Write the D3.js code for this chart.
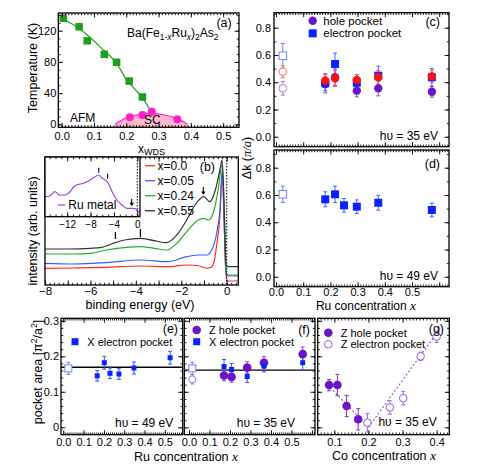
<!DOCTYPE html>
<html>
<head>
<meta charset="utf-8">
<script src="https://cdn.jsdelivr.net/npm/d3@7"></script>
<style>
body { margin: 0; background: #fff; }
text { font-family: "Liberation Sans", Arial, Helvetica, sans-serif; fill: #000; }
</style>
</head>
<body>
<script>
// ---------- data ----------
// (a) phase diagram
var afmX = [0.005, 0.054, 0.079, 0.132, 0.17, 0.209, 0.25];
var afmT = [136, 125, 107, 89.7, 79.5, 55.5, 35];
var afmFitX = [0, 0.05, 0.12, 0.17, 0.2, 0.25, 0.28];
var afmFitT = [136, 124, 99, 78, 58, 34, 15];
var scX = [0.211, 0.25, 0.279, 0.358];
var scT = [9, 11.9, 16.2, 6.4];
var domeX = [0.165, 0.2, 0.24, 0.28, 0.32, 0.36, 0.39];
var domeT = [0, 8.5, 12.5, 14, 12, 7, 0];

// (b) valence band spectra [binding energy, intensity]
var specLabels = ["x=0.0", "x=0.05", "x=0.24", "x=0.55"];
var specColors = ["#ff2a2a", "#3a5cff", "#22b022", "#333333"];
var spec00 = [[-8,16.7],[-6.75,17],[-5.3,17.7],[-3.8,19],[-2.6,18.3],[-1.76,20],[-1.3,19.5],[-0.9,17],[-0.7,17.5],[-0.55,24],[-0.44,40],[-0.3,68],[-0.19,112],[-0.1,52],[-0.03,10],[0.05,4],[0.51,4]];
var spec05 = [[-8,21.7],[-6.75,21],[-5.3,22.3],[-3.8,25],[-2.6,23.3],[-1.76,28.3],[-1.25,30],[-0.88,30],[-0.66,35],[-0.44,52],[-0.3,75],[-0.2,115],[-0.1,55],[-0.03,11.7],[0.05,9],[0.51,9]];
var spec24 = [[-8,31],[-6.75,31],[-6,31.7],[-5.3,35],[-4.5,37.3],[-3.8,38.3],[-3.2,36.7],[-2.64,35],[-2.2,41.7],[-1.76,53.3],[-1.25,65],[-1,66.7],[-0.8,65],[-0.6,71.7],[-0.4,91.7],[-0.2,120],[-0.1,68.3],[-0.03,15],[0.05,10],[0.51,10]];
var spec55 = [[-8,36],[-7,36],[-6,36.7],[-5.5,37.7],[-5,41.7],[-4.5,45],[-3.8,46.7],[-3.2,44.3],[-2.64,42.3],[-2.2,50],[-1.76,65],[-1.4,80],[-1,88.3],[-0.75,83.3],[-0.5,95],[-0.3,115],[-0.2,125],[-0.1,68.3],[-0.03,20],[0.05,18.3],[0.51,18.3]];
var ruMetal = [[-15.8,20],[-15,20.7],[-14.1,25],[-13.3,21.7],[-12.4,21.7],[-11.5,25],[-10.9,30],[-10,32.4],[-9.2,33.4],[-8.3,36],[-7.4,39.4],[-6.6,41.7],[-6,38.4],[-5.15,35],[-4.3,25],[-3.5,16.7],[-2.6,11.7],[-1.8,8.4],[-0.96,8.4],[-0.4,8],[0,6],[0.46,5]];
var specMarks = [[-4.9, 46, 53], [-3.8, 48, 56]];
var specArrow = [-1.03, 98, 90];
var ruMarks = [[-6.6, 44, 49], [-5.08, 38, 43]];
var ruArrow = [-0.96, 18, 10.5];

// (c) Δk at hν = 35 eV
var xC = [0.181, 0.217, 0.297, 0.376, 0.573];
var holeC = [0.387, 0.436, 0.338, 0.355, 0.33];
var holeCerr = [0.05, 0.06, 0.045, 0.055, 0.04];
var elecC = [0.392, 0.534, 0.396, 0.448, 0.436];
var elecCerr = [0.07, 0.08, 0.06, 0.07, 0.065];
var redC = [0.411, 0.428, 0.416, 0.436, 0.443];
var redCerr = [0.045, 0.06, 0.04, 0.05, 0.045];
var openXC = 0.025;
var openC = {elec: [0.594, 0.09], red: [0.477, 0.045], hole: [0.355, 0.05]};

// (d) Δk at hν = 49 eV
var xD = [0.181, 0.217, 0.25, 0.297, 0.376, 0.573];
var elecD = [0.568, 0.605, 0.524, 0.514, 0.543, 0.49];
var elecDerr = [0.055, 0.06, 0.05, 0.05, 0.055, 0.05];
var openD = [0.025, 0.605, 0.06];

// (e) X electron pocket area, 49 eV
var xE = [0.167, 0.202, 0.23, 0.274, 0.348, 0.526];
var areaE = [0.145, 0.182, 0.152, 0.150, 0.167, 0.196];
var areaEerr = [0.015, 0.018, 0.015, 0.015, 0.017, 0.018];
var openE = [0.025, 0.166, 0.017];
var lineE = 0.169;

// (f) Z hole and X electron pocket area, 35 eV
var xF = [0.171, 0.208, 0.284, 0.366, 0.555];
var holeF = [0.146, 0.142, 0.168, 0.182, 0.206];
var holeFerr = [0.015, 0.015, 0.017, 0.017, 0.02];
var elecF = [0.171, 0.163, 0.143, 0.173, 0.182];
var elecFerr = [0.02, 0.017, 0.017, 0.017, 0.02];
var openFelec = [0.016, 0.166, 0.017];
var openFhole = [0.016, 0.135, 0.013];
var lineF = 0.161;

// (g) Co doped, 35 eV
var xGhole = [0.0845, 0.109, 0.136, 0.170];
var holeG = [0.119, 0.119, 0.06, 0.0225];
var holeGerr = [0.016, 0.03, 0.03, 0.03];
var xGelec = [0.197, 0.263, 0.302, 0.353, 0.400];
var elecG = [0.013, 0.056, 0.082, 0.2, 0.255];
var elecGerr = [0.026, 0.019, 0.019, 0.012, 0.016];
var guideG1 = [[0.088, 0.112], [0.2, 0.0]];
var guideG2 = [[0.2, 0.0], [0.415, 0.285]];

// ---------- colours ----------
var green = "#1e9e1e", magenta = "#ff1ec8", pink = "#ffb8cc";
var purple = "#6a14c8", blue = "#0a22ff", red = "#ff1010";
var purpleLt = "#a07ae6", blueLt = "#6f82ff", redLt = "#ff7070";

var svg = d3.select("body").append("svg").attr("width", 498).attr("height", 473);

function panel(l, r, t, b, xd, yd) {
  return { l: l, r: r, t: t, b: b,
    x: d3.scaleLinear().domain(xd).range([l, r]),
    y: d3.scaleLinear().domain(yd).range([b, t]) };
}

function steps(lo, hi, st) {
  var out = [];
  for (var i = Math.ceil(lo / st - 1e-9); i <= Math.floor(hi / st + 1e-9); i++) out.push(+(i * st).toFixed(4));
  return out;
}

function axisSide(p, side, vals, len, fmt, pad, fs) {
  var horiz = side == "bottom" || side == "top";
  var sc = horiz ? p.x : p.y;
  var mk = { bottom: d3.axisBottom, top: d3.axisTop, left: d3.axisLeft, right: d3.axisRight }[side];
  var inside = vals.filter(function(v) {
    var q = sc(v);
    return horiz ? (q >= p.l - 0.5 && q <= p.r + 0.5) : (q >= p.t - 0.5 && q <= p.b + 0.5);
  });
  var ax = mk(sc).tickValues(inside).tickSizeInner(-len).tickSizeOuter(0)
    .tickPadding(pad || 3).tickFormat(fmt || function() { return ""; });
  var tr = { bottom: "translate(0," + p.b + ")", top: "translate(0," + p.t + ")",
             left: "translate(" + p.l + ",0)", right: "translate(" + p.r + ",0)" }[side];
  var g = svg.append("g").attr("transform", tr).call(ax);
  g.attr("font-family", null).attr("font-size", fs || 11);
  g.select(".domain").remove();
  g.selectAll(".tick line").attr("stroke", "#000").attr("stroke-width", 0.9);
  return g;
}

function frame(p, o) {
  if (o.xMin) { axisSide(p, "bottom", o.xMin, 2.2); axisSide(p, "top", o.xMin, 2.2); }
  if (o.xMaj) { axisSide(p, "bottom", o.xMaj, 4.5, o.xf, o.xpad, o.xfs); axisSide(p, "top", o.xMaj, 4.5); }
  if (o.yMin) { axisSide(p, "left", o.yMin, 2.2); axisSide(p, "right", o.yMin, 2.2); }
  if (o.yMaj) { axisSide(p, "left", o.yMaj, 4.5, o.yf, o.ypad); axisSide(p, "right", o.yMaj, 4.5); }
  svg.append("rect").attr("x", p.l).attr("y", p.t).attr("width", p.r - p.l).attr("height", p.b - p.t)
    .attr("fill", "none").attr("stroke", "#000").attr("stroke-width", 1.3);
}

function clipFor(p, id) {
  svg.append("clipPath").attr("id", id).append("rect")
    .attr("x", p.l).attr("y", p.t).attr("width", p.r - p.l).attr("height", p.b - p.t);
  return "url(#" + id + ")";
}

function errBars(p, xs, ys, es, color) {
  svg.append("g").selectAll("path").data(xs.map(function(x, i) { return [x, ys[i], es[i]]; })).join("path")
    .attr("d", function(d) {
      var X = p.x(d[0]), y1 = p.y(d[1] - d[2]), y2 = p.y(d[1] + d[2]);
      return "M" + X + "," + y1 + "V" + y2 + "M" + (X - 2) + "," + y1 + "h4M" + (X - 2) + "," + y2 + "h4";
    })
    .attr("stroke", color).attr("stroke-width", 1).attr("fill", "none");
}

function circles(p, xs, ys, r, fill, stroke) {
  svg.append("g").selectAll("circle").data(xs.map(function(x, i) { return [x, ys[i]]; })).join("circle")
    .attr("cx", function(d) { return p.x(d[0]); }).attr("cy", function(d) { return p.y(d[1]); })
    .attr("r", r).attr("fill", fill).attr("stroke", stroke || "none").attr("stroke-width", 1);
}

function squares(p, xs, ys, s, fill, stroke) {
  svg.append("g").selectAll("rect").data(xs.map(function(x, i) { return [x, ys[i]]; })).join("rect")
    .attr("x", function(d) { return p.x(d[0]) - s / 2; }).attr("y", function(d) { return p.y(d[1]) - s / 2; })
    .attr("width", s).attr("height", s).attr("fill", fill).attr("stroke", stroke || "none").attr("stroke-width", 1);
}

function label(x, y, str, o) {
  o = o || {};
  return svg.append("text").attr("x", x).attr("y", y).attr("dy", "0.35em")
    .attr("font-size", o.fs || 12).attr("text-anchor", o.anchor || "start").text(str);
}

function rotLabel(x, y, fs) {
  return svg.append("text").attr("transform", "translate(" + x + "," + y + ") rotate(-90)")
    .attr("text-anchor", "middle").attr("dy", "0.35em").attr("font-size", fs);
}

function italicX(t) {
  t.append("tspan").attr("font-family", "Liberation Serif, Times New Roman, serif")
    .attr("font-style", "italic").attr("font-size", 13.5).text(" x");
}

var f1 = d3.format(".1f");
var fd = d3.format("d");

// ================= (a) =================
var pa = panel(58.3, 239, 13, 127.3, [-0.0105, 0.549], [-3.8, 142.7]);
var clipA = clipFor(pa, "clipA");
svg.append("path").datum(domeX.map(function(x, i) { return [x, domeT[i]]; }))
  .attr("clip-path", clipA)
  .attr("d", d3.area().x(function(d) { return pa.x(d[0]); }).y0(pa.y(-3.8)).y1(function(d) { return pa.y(d[1]); }).curve(d3.curveMonotoneX))
  .attr("fill", pink);
svg.append("path").datum(domeX.map(function(x, i) { return [x, domeT[i]]; }))
  .attr("d", d3.line().x(function(d) { return pa.x(d[0]); }).y(function(d) { return pa.y(d[1]); }).curve(d3.curveMonotoneX))
  .attr("fill", "none").attr("stroke", magenta).attr("stroke-width", 1.2);
svg.append("path").datum(afmFitX.map(function(x, i) { return [x, afmFitT[i]]; }))
  .attr("d", d3.line().x(function(d) { return pa.x(d[0]); }).y(function(d) { return pa.y(d[1]); }).curve(d3.curveMonotoneX))
  .attr("fill", "none").attr("stroke", green).attr("stroke-width", 1.2);
squares(pa, afmX, afmT, 7.5, green);
circles(pa, scX, scT, 4, magenta);
frame(pa, { xMin: steps(0, 0.54, 0.01), xMaj: steps(0, 0.5, 0.1), xf: f1, xpad: 4.5,
            yMin: steps(0, 140, 10), yMaj: [0, 40, 80, 120], yf: fd, ypad: 2 });
label(231.7, 22.7, "(a)", { fs: 12.5, anchor: "end" });
label(70, 118, "AFM", { fs: 12 });
label(144, 120, "SC", { fs: 12 });
var ttl = svg.append("text").attr("x", 127).attr("y", 37)
  .attr("font-family", "Liberation Serif, Times New Roman, serif").attr("font-size", 12);
ttl.append("tspan").text("Ba(Fe");
ttl.append("tspan").attr("font-size", 8.5).attr("dy", 3).text("1-");
ttl.append("tspan").attr("font-size", 8.5).attr("font-style", "italic").text("x");
ttl.append("tspan").attr("dy", -3).text("Ru");
ttl.append("tspan").attr("font-size", 8.5).attr("font-style", "italic").attr("dy", 3).text("x");
ttl.append("tspan").attr("dy", -3).text(")");
ttl.append("tspan").attr("font-size", 8.5).attr("dy", 3).text("2");
ttl.append("tspan").attr("dy", -3).text("As");
ttl.append("tspan").attr("font-size", 8.5).attr("dy", 3).text("2");
rotLabel(33, 68, 12.5).text("Temperature (K)");
var xw = svg.append("text").attr("x", 138).attr("y", 152.5).attr("font-size", 12);
xw.append("tspan").text("x");
xw.append("tspan").attr("font-size", 9).attr("dy", 2.5).text("WDS");

// ================= (b) =================
var pb = panel(45, 238.3, 157, 285, [-8, 0.51], [0, 128]);
var clipB = clipFor(pb, "clipB");
var lineB = d3.line().x(function(d) { return pb.x(d[0]); }).y(function(d) { return pb.y(d[1]); }).curve(d3.curveMonotoneX);
[spec00, spec05, spec24, spec55].forEach(function(s, i) {
  svg.append("path").datum(s).attr("clip-path", clipB).attr("d", lineB)
    .attr("fill", "none").attr("stroke", specColors[i]).attr("stroke-width", 1.2);
});
svg.append("line").attr("x1", pb.x(0)).attr("x2", pb.x(0)).attr("y1", pb.t).attr("y2", pb.b)
  .attr("stroke", "#000").attr("stroke-width", 1).attr("stroke-dasharray", "1.5,1.5");
specMarks.forEach(function(m) {
  svg.append("line").attr("x1", pb.x(m[0])).attr("x2", pb.x(m[0])).attr("y1", pb.y(m[1])).attr("y2", pb.y(m[2]))
    .attr("stroke", "#000").attr("stroke-width", 1.2);
});
function arrowDown(p, a) {
  var X = p.x(a[0]), y0 = p.y(a[1]), y1 = p.y(a[2]);
  svg.append("line").attr("x1", X).attr("x2", X).attr("y1", y0).attr("y2", y1 - 3).attr("stroke", "#000").attr("stroke-width", 1.1);
  svg.append("path").attr("d", "M" + (X - 2.2) + "," + (y1 - 3.5) + "L" + (X + 2.2) + "," + (y1 - 3.5) + "L" + X + "," + y1 + "Z").attr("fill", "#000");
}
arrowDown(pb, specArrow);
frame(pb, { xMin: steps(-8, 0.5, 0.2), xMaj: steps(-8, 0, 1), xf: function(v) { return v % 2 === 0 ? fd(v) : ""; }, xpad: 2, xfs: 11.5 });
// legend
specLabels.forEach(function(s, i) {
  var yy = 165.7 + i * 15;
  svg.append("line").attr("x1", 145).attr("x2", 155).attr("y1", yy).attr("y2", yy)
    .attr("stroke", specColors[i]).attr("stroke-width", 1.3);
  label(157.5, yy, s, { fs: 12 });
});
label(215, 166.7, "(b)", { fs: 12.5, anchor: "end" });
label(140, 305, "binding energy (eV)", { fs: 12.5, anchor: "middle" });
rotLabel(33, 231, 12.5).text("intensity (arb. units)");

// inset
var pi = panel(45, 140, 157, 216.7, [-15.8, 0.46], [0, 59.7]);
svg.append("rect").attr("x", pi.l).attr("y", pi.t).attr("width", pi.r - pi.l).attr("height", pi.b - pi.t).attr("fill", "#fff");
svg.append("path").datum(ruMetal)
  .attr("d", d3.line().x(function(d) { return pi.x(d[0]); }).y(function(d) { return pi.y(d[1]); }).curve(d3.curveMonotoneX))
  .attr("fill", "none").attr("stroke", "#9548e8").attr("stroke-width", 1.2);
svg.append("line").attr("x1", pi.x(0)).attr("x2", pi.x(0)).attr("y1", pi.t).attr("y2", pi.b)
  .attr("stroke", "#000").attr("stroke-width", 1).attr("stroke-dasharray", "1.5,1.5");
ruMarks.forEach(function(m) {
  svg.append("line").attr("x1", pi.x(m[0])).attr("x2", pi.x(m[0])).attr("y1", pi.y(m[1])).attr("y2", pi.y(m[2]))
    .attr("stroke", "#000").attr("stroke-width", 1.1);
});
arrowDown(pi, ruArrow);
frame(pi, { xMin: steps(-15, 0, 1), xMaj: [-12, -8, -4, 0], xf: fd, xpad: 4, xfs: 10 });
svg.append("line").attr("x1", 58).attr("x2", 65).attr("y1", 205).attr("y2", 205).attr("stroke", "#9548e8").attr("stroke-width", 1.3);
label(68.3, 205, "Ru metal", { fs: 12 });

// ================= (c) =================
var xdCD = [-0.0074, 0.636];
var pc = panel(274, 449, 12.7, 146.7, xdCD, [-0.073, 0.910]);
errBars(pc, [openXC], [openC.hole[0]], [openC.hole[1]], purpleLt);
errBars(pc, [openXC], [openC.elec[0]], [openC.elec[1]], blueLt);
errBars(pc, [openXC], [openC.red[0]], [openC.red[1]], redLt);
circles(pc, [openXC], [openC.hole[0]], 3.8, "#fff", purpleLt);
squares(pc, [openXC], [openC.elec[0]], 7.5, "#fff", blueLt);
circles(pc, [openXC], [openC.red[0]], 3.8, "#fff", redLt);
errBars(pc, xC, holeC, holeCerr, "#8a4ad8");
errBars(pc, xC, elecC, elecCerr, "#4a62ff");
errBars(pc, xC, redC, redCerr, "#ff5050");
circles(pc, xC, holeC, 4.2, purple);
squares(pc, xC, elecC, 8, blue);
circles(pc, xC, redC, 4.2, red);
frame(pc, { xMin: steps(0, 0.63, 0.01), xMaj: steps(0, 0.6, 0.1),
            yMin: steps(0, 0.9, 0.1), yMaj: steps(0, 0.8, 0.2), yf: f1, ypad: 3 });
svg.append("circle").attr("cx", 312.7).attr("cy", 20.7).attr("r", 4.2).attr("fill", purple);
label(323.3, 20.7, "hole pocket", { fs: 11.5 });
svg.append("rect").attr("x", 308.7).attr("y", 29.3).attr("width", 8).attr("height", 8).attr("fill", blue);
label(323.3, 33.3, "electron pocket", { fs: 11.5 });
label(440, 21.7, "(c)", { fs: 12.5, anchor: "end" });
label(438, 136, "h\u03c5 = 35 eV", { fs: 12, anchor: "end" });

// ================= (d) =================
var pd = panel(274, 449, 150, 286.7, xdCD, [-0.073, 0.930]);
errBars(pd, [openD[0]], [openD[1]], [openD[2]], blueLt);
squares(pd, [openD[0]], [openD[1]], 7.5, "#fff", blueLt);
errBars(pd, xD, elecD, elecDerr, "#4a62ff");
squares(pd, xD, elecD, 8, blue);
frame(pd, { xMin: steps(0, 0.63, 0.01), xMaj: steps(0, 0.6, 0.1), xf: function(v) { return v <= 0.5 ? f1(v) : ""; }, xpad: 1.5,
            yMin: steps(0, 0.9, 0.1), yMaj: steps(0, 0.8, 0.2), yf: f1, ypad: 3 });
label(440, 163.3, "(d)", { fs: 12.5, anchor: "end" });
label(438, 276, "h\u03c5 = 49 eV", { fs: 12, anchor: "end" });
var rc1 = label(366, 305.7, "Ru concentration", { fs: 12, anchor: "middle" });
italicX(rc1);
var dk = rotLabel(247, 158, 12.5);
dk.append("tspan").text("\u0394k (");
dk.append("tspan").attr("font-family", "Liberation Serif, Times New Roman, serif").attr("font-style", "italic").text("\u03c0/a");
dk.append("tspan").text(")");

// ================= (e) =================
var ydEFG = [-0.0208, 0.307];
var pe = panel(61, 182.7, 318.3, 434.7, [-0.0113, 0.588], ydEFG);
svg.append("line").attr("x1", pe.l).attr("x2", pe.r).attr("y1", pe.y(lineE)).attr("y2", pe.y(lineE))
  .attr("stroke", "#000").attr("stroke-width", 1.4);
errBars(pe, [openE[0]], [openE[1]], [openE[2]], blueLt);
squares(pe, [openE[0]], [openE[1]], 7, "#fff", blueLt);
errBars(pe, xE, areaE, areaEerr, "#3a55ff");
squares(pe, xE, areaE, 5, blue);
var fE = function(v) { return v === 0 ? "0" : f1(v); };
frame(pe, { xMin: steps(0, 0.58, 0.01), xMaj: steps(0, 0.5, 0.1), xf: f1, xpad: 3.5,
            yMin: steps(0, 0.3, 0.02), yMaj: steps(0, 0.3, 0.1), yf: fE, ypad: 2 });
svg.append("rect").attr("x", 71.5).attr("y", 338.2).attr("width", 7).attr("height", 7).attr("fill", blue);
label(87.3, 341.7, "X electron pocket", { fs: 11 });
label(178, 328.3, "(e)", { fs: 12.5, anchor: "end" });
label(173.3, 423, "h\u03c5 = 49 eV", { fs: 12, anchor: "end" });
var pa2 = rotLabel(38, 372, 12.5);
pa2.append("tspan").text("pocket area [\u03c0");
pa2.append("tspan").attr("font-size", 8.5).attr("dy", -5).text("2");
pa2.append("tspan").attr("dy", 5).text("/a");
pa2.append("tspan").attr("font-size", 8.5).attr("dy", -5).text("2");
pa2.append("tspan").attr("dy", 5).text("]");
var rc2 = label(186, 457, "Ru concentration", { fs: 12.5, anchor: "middle" });
italicX(rc2);

// ================= (f) =================
var pf = panel(184.3, 315, 318.3, 434.7, [-0.0229, 0.615], ydEFG);
svg.append("line").attr("x1", pf.l).attr("x2", pf.r).attr("y1", pf.y(lineF)).attr("y2", pf.y(lineF))
  .attr("stroke", "#000").attr("stroke-width", 1.4);
errBars(pf, [openFelec[0]], [openFelec[1]], [openFelec[2]], blueLt);
errBars(pf, [openFhole[0]], [openFhole[1]], [openFhole[2]], purpleLt);
squares(pf, [openFelec[0]], [openFelec[1]], 7, "#fff", blueLt);
circles(pf, [openFhole[0]], [openFhole[1]], 3.5, "#fff", purpleLt);
errBars(pf, xF, holeF, holeFerr, "#8a4ad8");
errBars(pf, xF, elecF, elecFerr, "#3a55ff");
circles(pf, xF, holeF, 4.3, purple);
squares(pf, xF, elecF, 5, blue);
frame(pf, { xMin: steps(0, 0.61, 0.01), xMaj: steps(0, 0.6, 0.1), xf: function(v) { return v <= 0.5 ? f1(v) : ""; }, xpad: 3.5,
            yMin: steps(0, 0.3, 0.02), yMaj: steps(0, 0.3, 0.1) });
svg.append("circle").attr("cx", 196.7).attr("cy", 330).attr("r", 4.3).attr("fill", purple);
label(209, 330, "Z hole pocket", { fs: 11 });
svg.append("rect").attr("x", 193.2).attr("y", 338.2).attr("width", 7).attr("height", 7).attr("fill", blue);
label(209, 341.7, "X electron pocket", { fs: 11 });
label(310, 330, "(f)", { fs: 12.5, anchor: "end" });
label(295, 423, "h\u03c5 = 35 eV", { fs: 12, anchor: "end" });

// ================= (g) =================
var pg = panel(317.7, 449.3, 318.3, 434.7, [0.0513, 0.437], ydEFG);
var clipG = clipFor(pg, "clipG");
[guideG1, guideG2].forEach(function(gl) {
  svg.append("path").datum(gl).attr("clip-path", clipG)
    .attr("d", d3.line().x(function(d) { return pg.x(d[0]); }).y(function(d) { return pg.y(d[1]); }))
    .attr("fill", "none").attr("stroke", "#8a50e0").attr("stroke-width", 1.1).attr("stroke-dasharray", "2,2");
});
errBars(pg, xGhole, holeG, holeGerr, "#7a30d0");
errBars(pg, xGelec, elecG, elecGerr, "#9a6ae6");
circles(pg, xGhole, holeG, 4.3, purple);
circles(pg, xGelec, elecG, 3.8, "#fff", "#8f5ee6");
frame(pg, { xMin: steps(0.06, 0.43, 0.01), xMaj: steps(0.1, 0.4, 0.1), xf: f1, xpad: 3.5,
            yMin: steps(0, 0.3, 0.02), yMaj: steps(0, 0.3, 0.1) });
svg.append("circle").attr("cx", 328.3).attr("cy", 332.7).attr("r", 4.3).attr("fill", purple);
label(340.7, 332.7, "Z hole pocket", { fs: 11 });
svg.append("circle").attr("cx", 328.3).attr("cy", 344.3).attr("r", 3.8).attr("fill", "#fff").attr("stroke", "#8f5ee6");
label(340.7, 344.3, "Z electron pocket", { fs: 11 });
label(444, 328.3, "(g)", { fs: 12.5, anchor: "end" });
label(436.7, 421.7, "h\u03c5 = 35 eV", { fs: 12, anchor: "end" });
var cc = label(384, 456, "Co concentration", { fs: 12.5, anchor: "middle" });
italicX(cc);
</script>
</body>
</html>
